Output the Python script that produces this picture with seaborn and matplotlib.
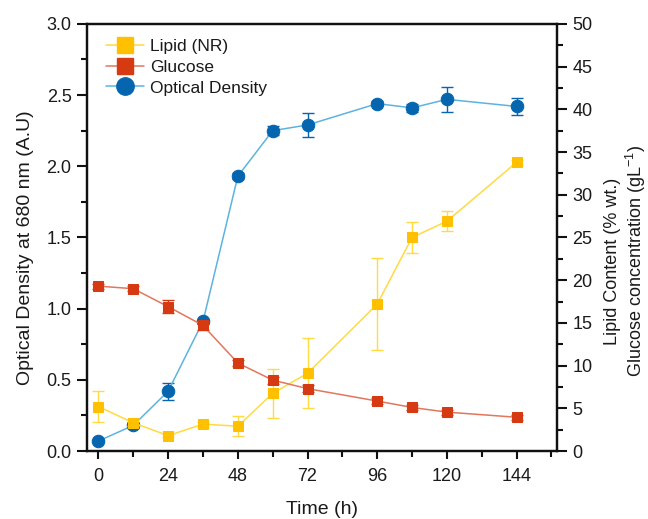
import numpy as np
import pandas as pd
import matplotlib
matplotlib.use('Agg')
import matplotlib.pyplot as plt
from matplotlib.lines import Line2D
from matplotlib.ticker import MultipleLocator
import seaborn as sns

# time points (h)
time = [0, 12, 24, 36, 48, 60, 72, 96, 108, 120, 144]

# optical density at 680 nm (left axis)
od = [0.07, 0.18, 0.42, 0.91, 1.93, 2.25, 2.29, 2.44, 2.41, 2.47, 2.42]
od_err = [0.01, 0.02, 0.06, 0.02, 0.02, 0.03, 0.087, 0.02, 0.03, 0.086, 0.057]

# glucose concentration g/L (right axis)
glucose = [19.3, 19.0, 16.9, 14.7, 10.3, 8.3, 7.3, 5.85, 5.1, 4.55, 3.95]
glucose_err = [0.3, 0.3, 0.8, 0.5, 0.3, 0.4, 0.4, 0.3, 0.3, 0.3, 0.3]

# lipid content % wt (right axis)
lipid = [5.2, 3.3, 1.8, 3.15, 2.9, 6.75, 9.1, 17.2, 25.0, 26.9, 33.8]
lipid_err = [1.85, 0.4, 0.2, 0.3, 1.2, 2.9, 4.1, 5.4, 1.8, 1.2, 0.3]

df = pd.DataFrame({'Time': time, 'OD': od, 'Glucose': glucose, 'Lipid': lipid})

sns.set_style('ticks')
plt.rcParams['font.family'] = ['Liberation Sans', 'DejaVu Sans']
plt.rcParams['mathtext.fontset'] = 'custom'
plt.rcParams['mathtext.rm'] = 'Liberation Sans'
plt.rcParams['mathtext.it'] = 'Liberation Sans:italic'
plt.rcParams['text.color'] = '#1a1a1a'
plt.rcParams['axes.labelcolor'] = '#1a1a1a'

c_lip, c_lip_line = '#FFC000', '#FFDA40'
c_glu, c_glu_line = '#D63A12', '#E2765E'
c_od, c_od_line = '#0565AE', '#5DB3E0'

fig = plt.figure(figsize=(6.48, 5.19), dpi=100)
ax = fig.add_axes([0.134, 0.131, 0.726, 0.823])
ax2 = ax.twinx()

# optical density on left axis
ax.errorbar(time, od, yerr=od_err, fmt='none', ecolor=c_od, elinewidth=1, capsize=4, capthick=1, zorder=2)
sns.lineplot(data=df, x='Time', y='OD', ax=ax, color=c_od_line, lw=1.1, marker='o', ms=9,
             markerfacecolor=c_od, markeredgecolor=c_od, zorder=3)

# lipid and glucose on right axis
ax2.errorbar(time, lipid, yerr=lipid_err, fmt='none', ecolor=c_lip_line, elinewidth=1, capsize=4, capthick=1, zorder=2)
sns.lineplot(data=df, x='Time', y='Lipid', ax=ax2, color=c_lip_line, lw=1.1, marker='s', ms=7.5,
             markerfacecolor=c_lip, markeredgecolor=c_lip, zorder=3)
ax2.errorbar(time, glucose, yerr=glucose_err, fmt='none', ecolor=c_glu, elinewidth=1, capsize=4, capthick=1, zorder=4)
sns.lineplot(data=df, x='Time', y='Glucose', ax=ax2, color=c_glu_line, lw=1.1, marker='s', ms=7.5,
             markerfacecolor=c_glu, markeredgecolor=c_glu, zorder=5)

ax.set_xlim(-4, 158)
ax.set_ylim(0, 3.0)
ax2.set_ylim(0, 50)
ax.xaxis.set_major_locator(MultipleLocator(24))
ax.xaxis.set_minor_locator(MultipleLocator(12))
ax.yaxis.set_major_locator(MultipleLocator(0.5))
ax.yaxis.set_minor_locator(MultipleLocator(0.25))
ax2.yaxis.set_major_locator(MultipleLocator(5))
ax2.yaxis.set_minor_locator(MultipleLocator(2.5))

for a in (ax, ax2):
    for s in a.spines.values():
        s.set_linewidth(1.6)
        s.set_color('#111111')
    a.tick_params(which='major', length=7, width=1.5, labelsize=13, direction='out',
                  colors='#111111', labelcolor='#1a1a1a', pad=4)
    a.tick_params(which='minor', length=4, width=1.5, direction='out', colors='#111111')
ax.tick_params(axis='x', which='major', length=6, pad=6)

ax.set_xlabel('Time (h)', fontsize=14, labelpad=12)
ax.set_ylabel('Optical Density at 680 nm (A.U)', fontsize=14, labelpad=9)
ax.yaxis.label.set_y(0.475)
ax2.set_ylabel('Lipid Content (% wt.)\nGlucose concentration (gL$^{-1}$)', fontsize=13, labelpad=8,
               linespacing=1.15)
ax2.yaxis.label.set_y(0.445)

handles = [
    Line2D([], [], color=c_lip_line, lw=1.1, marker='s', ms=11, markerfacecolor=c_lip, markeredgecolor=c_lip),
    Line2D([], [], color=c_glu_line, lw=1.1, marker='s', ms=11, markerfacecolor=c_glu, markeredgecolor=c_glu),
    Line2D([], [], color=c_od_line, lw=1.1, marker='o', ms=12.5, markerfacecolor=c_od, markeredgecolor=c_od),
]
ax2.legend(handles, ['Lipid (NR)', 'Glucose', 'Optical Density'], loc='upper left', frameon=False,
           fontsize=12.5, handlelength=2.2, handletextpad=0.3, labelspacing=0.33,
           borderaxespad=0.45, bbox_to_anchor=(0.01, 1.0))

fig.savefig('out.png', dpi=100)
